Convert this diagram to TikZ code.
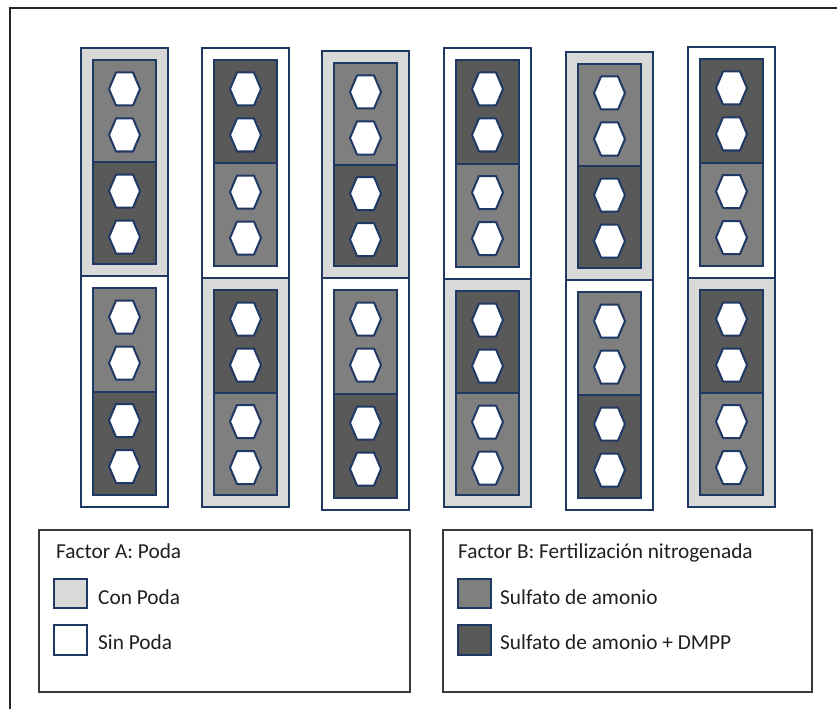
\documentclass[tikz,border=0pt]{standalone}
\usepackage{fontspec}
\setmainfont{Carlito}
\definecolor{navy}{HTML}{1F3864}
\definecolor{poda}{HTML}{D9D9D9}
\definecolor{sa}{HTML}{7F7F7F}
\definecolor{sad}{HTML}{595959}
\definecolor{framecol}{HTML}{3A3A3A}
\tikzset{
  outerbox/.style={draw=navy,line width=2bp},
  innerbox/.style={draw=navy,line width=2bp},
  hexcell/.style={draw=navy,fill=white,line width=2bp,line join=round},
  legendbox/.style={draw=framecol,line width=1.3bp},
  legsq/.style={draw=navy,line width=2.2bp},
  legtext/.style={inner sep=0pt,anchor=base west,font=\fontsize{21.4}{24}\selectfont,text=black!88},
  framelines/.style={draw=black!85,line width=1.5bp}
}
\newcommand\hexat[2]{%
  \draw[hexcell] ({#1-15.5},{#2}) -- ({#1-8.5},{#2-16.5}) -- ({#1+8.5},{#2-16.5}) -- ({#1+15.5},{#2})
    -- ({#1+8.5},{#2+16.5}) -- ({#1-8.5},{#2+16.5}) -- cycle;}
\newcommand\plotblock[6]{%
  \pgfmathsetmacro\pxl{#1}\pgfmathsetmacro\pxr{#1+87}\pgfmathsetmacro\pxc{#1+43.5}%
  \pgfmathsetmacro\pyt{#2}\pgfmathsetmacro\pyb{#3}%
  \pgfmathsetmacro\pit{#2+12}\pgfmathsetmacro\pib{#3-12}\pgfmathsetmacro\pim{(\pit+\pib)/2}%
  \draw[outerbox,fill=#4] (\pxl,\pyt) rectangle (\pxr,\pyb);
  \draw[innerbox,fill=#5] (\pxl+12,\pit) rectangle (\pxr-12,\pim);
  \draw[innerbox,fill=#6] (\pxl+12,\pim) rectangle (\pxr-12,\pib);
  \hexat{\pxc}{\pit+29}\hexat{\pxc}{\pit+75}%
  \hexat{\pxc}{\pim+29}\hexat{\pxc}{\pim+75}%
}
\begin{document}
\begin{tikzpicture}[x=1bp,y=-1bp]
\useasboundingbox (0,0) rectangle (837,709);
\draw[framelines] (10,709) -- (10,8) -- (837,8);
\foreach \cx/\ct/\cm/\cb/\codd in {81/48/276/507/1, 202/48/278/507/0, 322/51/278/510/1, 444/48/279/507/0, 566/52/280/510/1, 688/47/278/507/0}{
  \ifnum\codd=1
    \plotblock{\cx}{\ct}{\cm}{poda}{sa}{sad}
    \plotblock{\cx}{\cm}{\cb}{white}{sa}{sad}
  \else
    \plotblock{\cx}{\ct}{\cm}{white}{sad}{sa}
    \plotblock{\cx}{\cm}{\cb}{poda}{sad}{sa}
  \fi
}
% legend A
\draw[legendbox] (39,530) rectangle (410,692);
\node[legtext] (ta) at (56,558) {Factor A: Poda};
\draw[legsq,fill=poda] (54,579) rectangle (87,608);
\node[legtext] (ta1) at (98,604) {Con Poda};
\draw[legsq,fill=white] (54,625) rectangle (87,655);
\node[legtext] (ta2) at (98,649) {Sin Poda};
% legend B
\draw[legendbox] (443,530) rectangle (812,692);
\node[legtext] (tb) at (458,558) {Factor B: Fertilización nitrogenada};
\draw[legsq,fill=sa] (458,579) rectangle (491,608);
\node[legtext] (tb1) at (500,604) {Sulfato de amonio};
\draw[legsq,fill=sad] (458,625) rectangle (491,655);
\node[legtext] (tb2) at (500,649) {Sulfato de amonio + DMPP};
\end{tikzpicture}
\end{document}
